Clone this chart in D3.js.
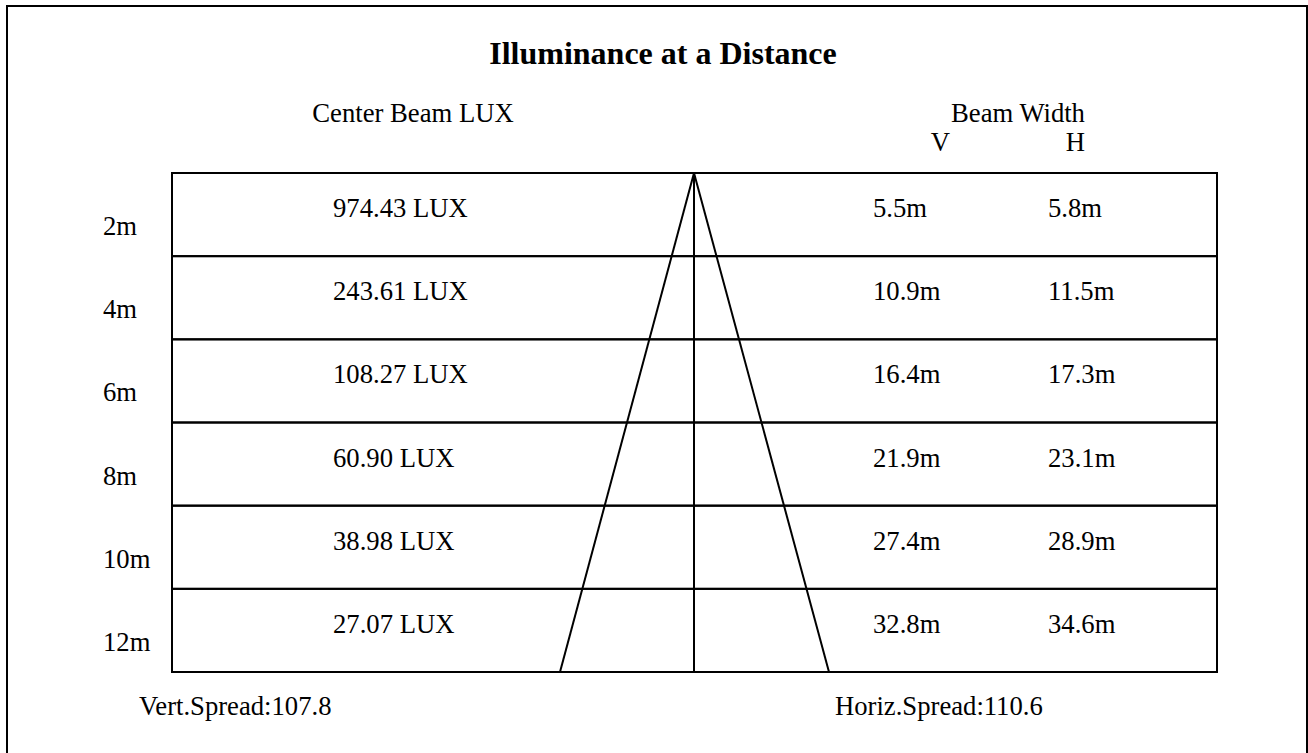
<!DOCTYPE html>
<html>
<head>
<meta charset="utf-8">
<script src="https://cdn.jsdelivr.net/npm/d3@7"></script>
<style>
  body { margin: 0; background: #fff; }
  svg { display: block; }
  text { font-family: "Liberation Serif", "Times New Roman", serif; fill: #000; }
</style>
</head>
<body>
<script>
var width = 1308;
var height = 753;

// chart values
var distances = ["2m", "4m", "6m", "8m", "10m", "12m"];
var distanceMeters = [2, 4, 6, 8, 10, 12];
var luxValues = [974.43, 243.61, 108.27, 60.90, 38.98, 27.07];
var beamV = [5.5, 10.9, 16.4, 21.9, 27.4, 32.8];
var beamH = [5.8, 11.5, 17.3, 23.1, 28.9, 34.6];
var vertSpread = 107.8;
var horizSpread = 110.6;

var svg = d3.select("body").append("svg")
    .attr("width", width)
    .attr("height", height);

var tableLeft = 172;
var tableRight = 1217;
var tableTop = 173;
var tableBottom = 672;

// row scale
var yScale = d3.scaleBand()
    .domain(distances)
    .range([tableTop, tableBottom]);

// distance scale for the cone
var dScale = d3.scaleLinear()
    .domain([0, 12])
    .range([tableTop, tableBottom]);

// column positions
var colScale = d3.scaleOrdinal()
    .domain(["dist", "lux", "v", "h"])
    .range([103, 333, 873, 1048]);

// cone spread (left = vertical, right = horizontal)
var coneScale = d3.scaleLinear()
    .domain([-1, 0, 1])
    .range([560, 694, 829]);

// outer frame
svg.append("rect")
    .attr("x", 7)
    .attr("y", 6)
    .attr("width", 1300)
    .attr("height", 800)
    .attr("fill", "none")
    .attr("stroke", "#000")
    .attr("stroke-width", 2);

// title and headers
svg.append("text")
    .attr("x", 663)
    .attr("y", 64)
    .attr("text-anchor", "middle")
    .attr("font-size", 32)
    .attr("font-weight", "bold")
    .text("Illuminance at a Distance");

svg.append("text")
    .attr("x", 413)
    .attr("y", 122)
    .attr("text-anchor", "middle")
    .attr("font-size", 26.67)
    .text("Center Beam LUX");

svg.append("text")
    .attr("x", 1018)
    .attr("y", 122)
    .attr("text-anchor", "middle")
    .attr("font-size", 26.67)
    .text("Beam Width");

svg.append("text")
    .attr("x", 940.5)
    .attr("y", 151)
    .attr("text-anchor", "middle")
    .attr("font-size", 26.67)
    .text("V");

svg.append("text")
    .attr("x", 1075.5)
    .attr("y", 151)
    .attr("text-anchor", "middle")
    .attr("font-size", 26.67)
    .text("H");

// rows
var rows = svg.selectAll("g.row")
    .data(distances)
    .enter().append("g")
    .attr("class", "row")
    .attr("transform", function(d) { return "translate(0," + yScale(d) + ")"; });

rows.append("rect")
    .attr("x", tableLeft)
    .attr("y", 0)
    .attr("width", tableRight - tableLeft)
    .attr("height", yScale.bandwidth())
    .attr("fill", "none")
    .attr("stroke", "#000")
    .attr("stroke-width", 2);

rows.append("text")
    .attr("x", colScale("dist"))
    .attr("y", 62)
    .attr("font-size", 26.67)
    .text(function(d) { return d; });

rows.append("text")
    .attr("x", colScale("lux"))
    .attr("y", 44)
    .attr("font-size", 26.67)
    .text(function(d, i) { return luxValues[i].toFixed(2) + " LUX"; });

rows.append("text")
    .attr("x", colScale("v"))
    .attr("y", 44)
    .attr("font-size", 26.67)
    .text(function(d, i) { return beamV[i].toFixed(1) + "m"; });

rows.append("text")
    .attr("x", colScale("h"))
    .attr("y", 44)
    .attr("font-size", 26.67)
    .text(function(d, i) { return beamH[i].toFixed(1) + "m"; });

// beam cone
var maxD = d3.max(distanceMeters);
var cone = svg.append("g").attr("class", "cone");

cone.append("line")
    .attr("x1", coneScale(0)).attr("y1", dScale(0))
    .attr("x2", coneScale(0)).attr("y2", dScale(maxD));

cone.append("line")
    .attr("x1", coneScale(0)).attr("y1", dScale(0))
    .attr("x2", coneScale(-1)).attr("y2", dScale(maxD));

cone.append("line")
    .attr("x1", coneScale(0)).attr("y1", dScale(0))
    .attr("x2", coneScale(1)).attr("y2", dScale(maxD));

cone.selectAll("line")
    .attr("stroke", "#000")
    .attr("stroke-width", 2);

// spread labels
svg.append("text")
    .attr("x", 139)
    .attr("y", 715)
    .attr("font-size", 26.67)
    .text("Vert.Spread:" + vertSpread);

svg.append("text")
    .attr("x", 835)
    .attr("y", 715)
    .attr("font-size", 26.67)
    .text("Horiz.Spread:" + horizSpread);
</script>
</body>
</html>
